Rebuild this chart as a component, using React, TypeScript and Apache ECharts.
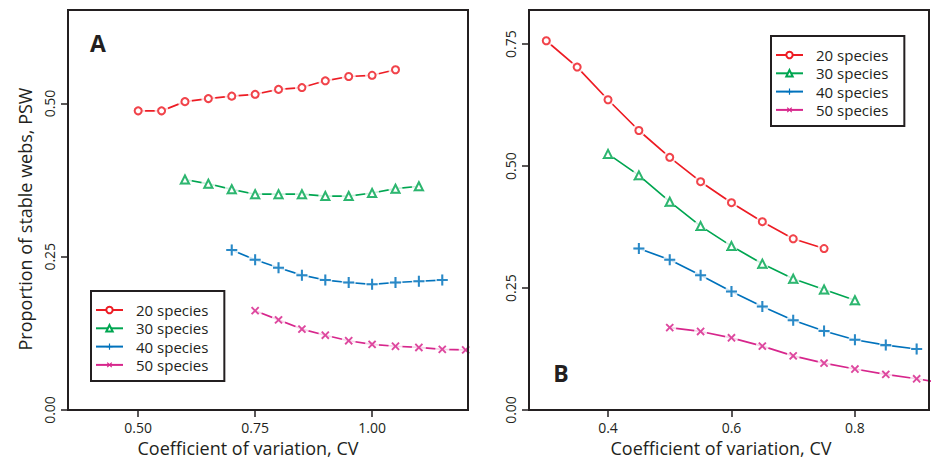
import React, { useEffect, useRef } from "react";
import * as echarts from "echarts";

// ---- Panel A data (x = CV, y = PSW) ----
const cvA20 = [0.5, 0.55, 0.6, 0.65, 0.7, 0.75, 0.8, 0.85, 0.9, 0.95, 1.0, 1.05];
const pswA20 = [0.488, 0.488, 0.503, 0.508, 0.512, 0.515, 0.523, 0.526, 0.537, 0.544, 0.546, 0.555];
const cvA30 = [0.6, 0.65, 0.7, 0.75, 0.8, 0.85, 0.9, 0.95, 1.0, 1.05, 1.1];
const pswA30 = [0.376, 0.369, 0.36, 0.352, 0.352, 0.352, 0.349, 0.349, 0.354, 0.361, 0.365];
const cvA40 = [0.7, 0.75, 0.8, 0.85, 0.9, 0.95, 1.0, 1.05, 1.1, 1.15];
const pswA40 = [0.261, 0.245, 0.232, 0.22, 0.212, 0.208, 0.205, 0.208, 0.21, 0.212];
const cvA50 = [0.75, 0.8, 0.85, 0.9, 0.95, 1.0, 1.05, 1.1, 1.15, 1.2];
const pswA50 = [0.162, 0.147, 0.132, 0.122, 0.113, 0.107, 0.104, 0.102, 0.099, 0.098];

// ---- Panel B data ----
const cvB20 = [0.3, 0.35, 0.4, 0.45, 0.5, 0.55, 0.6, 0.65, 0.7, 0.75];
const pswB20 = [0.757, 0.703, 0.636, 0.573, 0.518, 0.468, 0.425, 0.386, 0.351, 0.331];
const cvB30 = [0.4, 0.45, 0.5, 0.55, 0.6, 0.65, 0.7, 0.75, 0.8];
const pswB30 = [0.525, 0.481, 0.427, 0.377, 0.336, 0.3, 0.269, 0.247, 0.225];
const cvB40 = [0.45, 0.5, 0.55, 0.6, 0.65, 0.7, 0.75, 0.8, 0.85, 0.9];
const pswB40 = [0.331, 0.308, 0.276, 0.243, 0.212, 0.184, 0.162, 0.144, 0.133, 0.125];
const cvB50 = [0.5, 0.55, 0.6, 0.65, 0.7, 0.75, 0.8, 0.85, 0.9, 0.95];
const pswB50 = [0.169, 0.161, 0.148, 0.131, 0.111, 0.096, 0.084, 0.073, 0.064, 0.054];

const seriesNames = ["20 species", "30 species", "40 species", "50 species"];
const xTicksA = [0.5, 0.75, 1.0];
const yTicksA = [0, 0.25, 0.5];
const xTicksB = [0.4, 0.6, 0.8];
const yTicksB = [0, 0.25, 0.5, 0.75];

const colors = ["#ed1c24", "#00a651", "#0072bc", "#d7268c"];
const FONT = "Open Sans";
const INK = "#231f20";

const PLUS = "path://M-1.1,-6H1.1V-1.1H6V1.1H1.1V6H-1.1V1.1H-6V-1.1H-1.1Z";
const symbols = [
  { symbol: "emptyCircle", size: 7, rotate: 0, empty: true },
  { symbol: "emptyTriangle", size: 8, rotate: 0, empty: true },
  { symbol: PLUS, size: 11, rotate: 0, empty: false },
  { symbol: PLUS, size: 10, rotate: 45, empty: false },
];

const zip = (xs: number[], ys: number[]) => xs.map((x, i) => [x, ys[i]]);

function makeSeries(idx: number, grid: number, xs: number[], ys: number[], gap: number) {
  const s = symbols[idx];
  const c = colors[idx];
  const data = zip(xs, ys);
  const itemStyle = s.empty
    ? { color: c, borderColor: c, borderWidth: 1.7 }
    : { color: c, borderWidth: 0 };
  return [
    {
      type: "line",
      name: seriesNames[idx],
      xAxisIndex: grid,
      yAxisIndex: grid,
      data,
      symbol: s.symbol,
      symbolSize: s.size,
      symbolRotate: s.rotate,
      lineStyle: { color: c, width: 1.7 },
      itemStyle,
      z: 2,
      silent: true,
    },
    {
      type: "scatter",
      name: seriesNames[idx] + " gap" + grid,
      xAxisIndex: grid,
      yAxisIndex: grid,
      data,
      symbol: "circle",
      symbolSize: gap,
      itemStyle: { color: "#ffffff" },
      z: 3,
      silent: true,
    },
    {
      type: "scatter",
      name: seriesNames[idx] + " mark" + grid,
      xAxisIndex: grid,
      yAxisIndex: grid,
      data,
      symbol: s.symbol,
      symbolSize: s.size,
      symbolRotate: s.rotate,
      itemStyle,
      z: 4,
      silent: true,
    },
  ];
}

const axisCommon = {
  axisLine: { show: true, lineStyle: { color: INK, width: 2 } },
  axisTick: { show: true, inside: false, length: 7, lineStyle: { color: INK, width: 1.5 } },
  splitLine: { show: false },
  axisLabel: { color: INK, fontSize: 14, fontFamily: FONT },
  z: 10,
};

function legendAt(left: number, top: number) {
  return {
    show: true,
    orient: "vertical",
    left,
    top,
    data: seriesNames,
    selectedMode: false,
    itemWidth: 27,
    itemHeight: 8,
    itemGap: 0.3,
    padding: [10, 16, 7, 4],
    borderColor: INK,
    borderWidth: 2,
    backgroundColor: "#ffffff",
    textStyle: {
      color: INK,
      fontSize: 15,
      fontFamily: FONT,
      lineHeight: 18,
      padding: [0, 0, 0, 8],
    },
  };
}

export default function App() {
  const ref = useRef<HTMLDivElement>(null);
  useEffect(() => {
    if (!ref.current) return;
    const chart = echarts.init(ref.current, null, { renderer: "svg" });
    const series: any[] = [
      ...makeSeries(0, 0, cvA20, pswA20, 14),
      ...makeSeries(1, 0, cvA30, pswA30, 14),
      ...makeSeries(2, 0, cvA40, pswA40, 14),
      ...makeSeries(3, 0, cvA50, pswA50, 14),
      ...makeSeries(0, 1, cvB20, pswB20, 13),
      ...makeSeries(1, 1, cvB30, pswB30, 13),
      ...makeSeries(2, 1, cvB40, pswB40, 13),
      ...makeSeries(3, 1, cvB50, pswB50, 13),
    ];
    const titleFont = `18px "${FONT}"`;
    chart.setOption({
      animation: false,
      backgroundColor: "#ffffff",
      grid: [
        { left: 68, top: 10, width: 400, height: 400, show: true, borderColor: INK, borderWidth: 2, z: 10 },
        { left: 529, top: 10, width: 400, height: 400, show: true, borderColor: INK, borderWidth: 2, z: 10 },
      ],
      xAxis: [
        {
          ...axisCommon,
          gridIndex: 0,
          type: "value",
          min: 0.35,
          max: 1.205,
          axisTick: { ...axisCommon.axisTick, customValues: xTicksA },
          axisLabel: { ...axisCommon.axisLabel, margin: 10, customValues: xTicksA, formatter: (v: number) => v.toFixed(2) },
        },
        {
          ...axisCommon,
          gridIndex: 1,
          type: "value",
          min: 0.272,
          max: 0.92,
          axisTick: { ...axisCommon.axisTick, customValues: xTicksB },
          axisLabel: { ...axisCommon.axisLabel, margin: 10, customValues: xTicksB, formatter: (v: number) => v.toFixed(1) },
        },
      ],
      yAxis: [
        {
          ...axisCommon,
          gridIndex: 0,
          type: "value",
          min: 0,
          max: 0.6525,
          axisTick: { ...axisCommon.axisTick, customValues: yTicksA },
          axisLabel: { ...axisCommon.axisLabel, rotate: 90, margin: 12, customValues: yTicksA, formatter: (v: number) => v.toFixed(2) },
        },
        {
          ...axisCommon,
          gridIndex: 1,
          type: "value",
          min: 0,
          max: 0.82,
          axisTick: { ...axisCommon.axisTick, customValues: yTicksB },
          axisLabel: { ...axisCommon.axisLabel, rotate: 90, margin: 12, customValues: yTicksB, formatter: (v: number) => v.toFixed(2) },
        },
      ],
      legend: [legendAt(91, 291), legendAt(771, 36)],
      graphic: [
        {
          type: "text",
          x: 248,
          y: 448,
          style: { text: "Coefficient of variation, CV", fill: INK, font: titleFont, textAlign: "center", textVerticalAlign: "middle" },
        },
        {
          type: "text",
          x: 721,
          y: 448,
          style: { text: "Coefficient of variation, CV", fill: INK, font: titleFont, textAlign: "center", textVerticalAlign: "middle" },
        },
        {
          type: "text",
          x: 25,
          y: 219,
          rotation: Math.PI / 2,
          style: { text: "Proportion of stable webs, PSW", fill: INK, font: titleFont, textAlign: "center", textVerticalAlign: "middle" },
        },
        {
          type: "text",
          x: 98,
          y: 43,
          style: { text: "A", fill: INK, font: `bold 23px "${FONT}"`, textAlign: "center", textVerticalAlign: "middle" },
        },
        {
          type: "text",
          x: 561,
          y: 373,
          style: { text: "B", fill: INK, font: `bold 23px "${FONT}"`, textAlign: "center", textVerticalAlign: "middle" },
        },
      ],
      series,
    });
    return () => chart.dispose();
  }, []);
  return <div ref={ref} style={{ position: "absolute", left: 0, top: 0, width: 934, height: 460 }} />;
}
